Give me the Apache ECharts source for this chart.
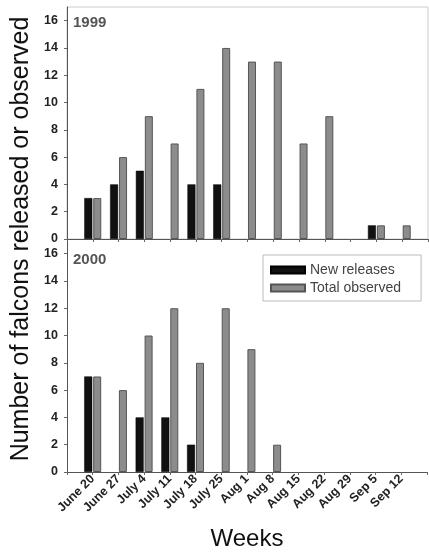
<!DOCTYPE html>
<html>
<head>
<meta charset="utf-8">
<script src="https://cdn.jsdelivr.net/npm/echarts@6/dist/echarts.min.js"></script>
<style>html,body{margin:0;padding:0;background:#fff}#c{width:429px;height:555px}</style>
</head>
<body>
<div id="c"></div>
<script>
var weeks = ['June 20','June 27','July 4','July 11','July 18','July 25','Aug 1','Aug 8','Aug 15','Aug 22','Aug 29','Sep 5','Sep 12'];
var new1999 = [3,4,5,0,4,4,0,0,0,0,0,1,0];
var total1999 = [3,6,9,7,11,14,13,13,7,9,0,1,1];
var new2000 = [7,0,4,4,2,0,0,0,0,0,0,0,0];
var total2000 = [7,6,10,12,8,12,9,2,0,0,0,0,0];
var yTicks = [0,2,4,6,8,10,12,14,16];

var FONT = 'Liberation Sans, Arial, sans-serif';
function pairs(arr){ return arr.map(function(v,i){ return [i, v === 0 ? null : v]; }); }

var chart = echarts.init(document.getElementById('c'));

function xAx(idx, showLabels){
  return {
    type:'value', gridIndex: idx, min:-1, max:13, interval:1,
    axisLine:{show:true, onZero:false, lineStyle:{color:'#555', width:1}},
    axisTick:{show:true, length:3, lineStyle:{color:'#666'}},
    splitLine:{show:false},
    axisLabel:{
      show: showLabels, rotate:45, margin:5,
      fontFamily:FONT, fontWeight:'bold', fontSize:12.5, color:'#222',
      formatter:function(v){ return weeks[v] !== undefined ? weeks[v] : ''; }
    },
    name: showLabels ? 'Weeks' : '',
    nameLocation:'middle', nameGap:55,
    nameTextStyle:{fontFamily:FONT, fontSize:24, color:'#111'}
  };
}
function yAx(idx){
  return {
    type:'value', gridIndex: idx, min:0, max:17, interval:2,
    axisLine:{show:true, onZero:false, lineStyle:{color:'#555', width:1}},
    axisTick:{show:true, length:3, lineStyle:{color:'#666'}},
    splitLine:{show:false},
    axisLabel:{
      showMaxLabel:false, margin:9,
      fontFamily:FONT, fontWeight:'bold', fontSize:12.5, color:'#222',
      formatter:function(v){ return yTicks.indexOf(v) >= 0 ? String(v) : ''; }
    }
  };
}

var blackStyle = {color:'#111', borderColor:'#000', borderWidth:0.5};
var grayStyle = {color:'#8c8c8c', borderColor:'#555', borderWidth:1};

chart.setOption({
  animation:false,
  backgroundColor:'#fff',
  title:[
    {text:'1999', left:73, top:15, padding:0, textStyle:{fontFamily:FONT, fontWeight:'bold', fontSize:15, color:'#555'}},
    {text:'2000', left:73, top:252, padding:0, textStyle:{fontFamily:FONT, fontWeight:'bold', fontSize:15, color:'#555'}}
  ],
  legend:{
    data:['New releases','Total observed'],
    orient:'vertical', left:263, top:255,
    itemWidth:34, itemHeight:7, itemGap:4,
    padding:[8, 20, 6, 7],
    borderColor:'#bbb', borderWidth:1,
    textStyle:{fontFamily:FONT, fontSize:14, color:'#444'},
    icon:'rect'
  },
  grid:[
    {left:67, top:7, width:361, height:232, show:true, borderColor:'#ccc', borderWidth:1},
    {left:67, top:240, width:361, height:232}
  ],
  xAxis:[xAx(0,false), xAx(1,true)],
  yAxis:[yAx(0), yAx(1)],
  graphic:[{
    type:'text', x:21, y:239, rotation:Math.PI/2,
    style:{text:'Number of falcons released or observed', fontFamily:FONT, fontSize:25, fill:'#111', align:'center', verticalAlign:'middle'}
  }],
  series:[
    {name:'New releases', type:'bar', xAxisIndex:0, yAxisIndex:0, data:pairs(new1999), barWidth:8, barGap:'12%', itemStyle:blackStyle},
    {name:'Total observed', type:'bar', xAxisIndex:0, yAxisIndex:0, data:pairs(total1999), barWidth:8, barGap:'12%', itemStyle:grayStyle},
    {name:'New releases', type:'bar', xAxisIndex:1, yAxisIndex:1, data:pairs(new2000), barWidth:8, barGap:'12%', itemStyle:blackStyle},
    {name:'Total observed', type:'bar', xAxisIndex:1, yAxisIndex:1, data:pairs(total2000), barWidth:8, barGap:'12%', itemStyle:grayStyle}
  ]
});
</script>
</body>
</html>
